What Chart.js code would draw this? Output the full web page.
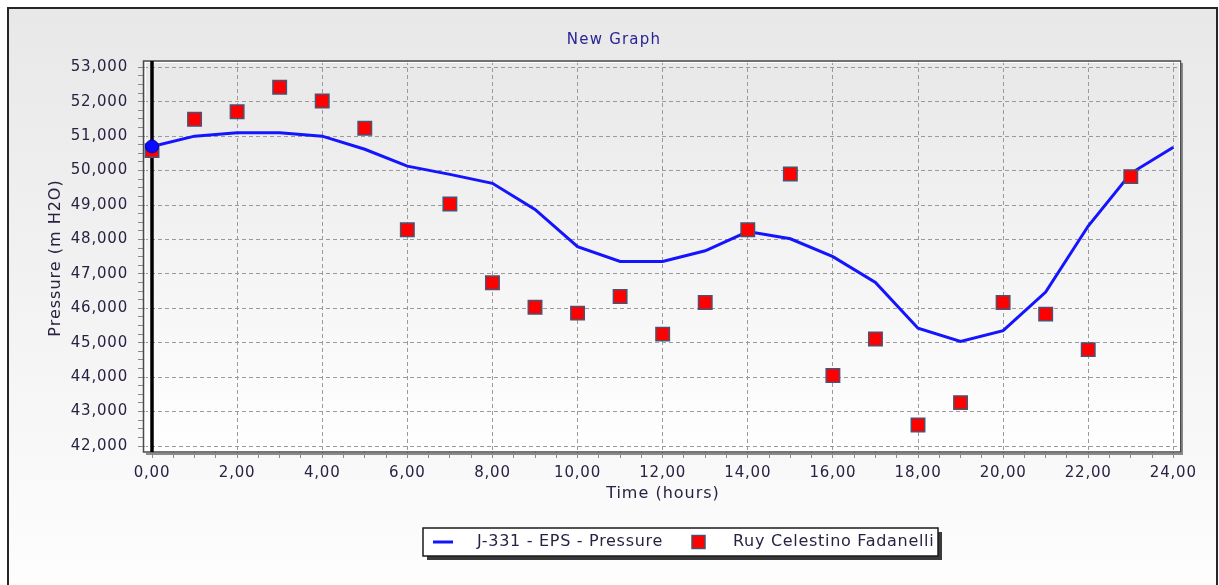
<!DOCTYPE html>
<html>
<head>
<meta charset="utf-8">
<script src="https://cdn.jsdelivr.net/npm/chart.js@4.4.1/dist/chart.umd.min.js"></script>
<style>
  html, body { margin: 0; padding: 0; background: #ffffff; }
  canvas { display: block; }
</style>
</head>
<body>
<canvas id="graph" width="1219" height="585"></canvas>
<script>
// Hourly time axis (hours)
const modelHours = [0, 1, 2, 3, 4, 5, 6, 7, 8, 9, 10, 11, 12, 13, 14, 15, 16, 17, 18, 19, 20, 21, 22, 23, 24];
// J-331 - EPS - Pressure (model result)
const modelPressure = [50700, 51000, 51100, 51100, 51000, 50620, 50130, 49890, 49630, 48870, 47790, 47360, 47360,
                       47670, 48230, 48020, 47500, 46750, 45420, 45035, 45350, 46470, 48390, 49920, 50680];
// Field readings
const fieldHours = [0, 1, 2, 3, 4, 5, 6, 7, 8, 9, 10, 11, 12, 13, 14, 15, 16, 17, 18, 19, 20, 21, 22, 23];
const fieldPressure = [50580, 51490, 51710, 52420, 52020, 51230, 48280, 49030, 46740, 46030, 45860, 46340,
                       45250, 46170, 48280, 49900, 44050, 45110, 42610, 43260, 46170, 45830, 44800, 49825];

// Axis ticks
const xMajorTicks = [0, 2, 4, 6, 8, 10, 12, 14, 16, 18, 20, 22, 24];
const yMajorTicks = [42000, 43000, 44000, 45000, 46000, 47000, 48000, 49000, 50000, 51000, 52000, 53000];
const xMinorPerMajor = 4;   // tick every 0.5 h
const yMinorPerMajor = 4;   // tick every 250

// Texts
const graphTitle = 'New Graph';
const xAxisTitle = 'Time (hours)';
const yAxisTitle = 'Pressure (m H2O)';
const modelLabel = 'J-331 - EPS - Pressure';
const fieldLabel = 'Ruy Celestino Fadanelli';

function subdivide(majors, parts) {
  const out = [];
  for (let i = 0; i < majors.length; i++) {
    out.push(majors[i]);
    if (i < majors.length - 1) {
      const step = (majors[i + 1] - majors[i]) / parts;
      for (let k = 1; k < parts; k++) out.push(majors[i] + k * step);
    }
  }
  return out;
}
const xTicks = subdivide(xMajorTicks, xMinorPerMajor);
const yTicks = subdivide(yMajorTicks, yMinorPerMajor);

const FONT = 'DejaVu Sans';
const TEXT = '#2b2142';
const PLOT = { left: 144, right: 1181, top: 61, bottom: 452 };

const decorations = {
  id: 'decorations',
  beforeDraw(chart) {
    const ctx = chart.ctx;
    const a = chart.chartArea;
    ctx.save();
    ctx.fillStyle = '#ffffff';
    ctx.fillRect(0, 0, chart.width, chart.height);
    // panel
    let g = ctx.createLinearGradient(0, 9, 0, 585);
    g.addColorStop(0, '#e8e8e8');
    g.addColorStop(1, '#fdfdfd');
    ctx.fillStyle = g;
    ctx.fillRect(9, 9, 1207, 600);
    ctx.strokeStyle = '#262626';
    ctx.lineWidth = 2;
    ctx.strokeRect(8, 8, 1209, 620);
    // plot area
    g = ctx.createLinearGradient(0, a.top, 0, a.bottom);
    g.addColorStop(0, '#e8e8e8');
    g.addColorStop(1, '#ffffff');
    ctx.fillStyle = g;
    ctx.fillRect(a.left, a.top, a.right - a.left, a.bottom - a.top);
    ctx.restore();
    // slightly open spacing for the axis tick labels
    if ('letterSpacing' in ctx) ctx.letterSpacing = '0.8px';
  },
  beforeDatasetsDraw(chart) {
    const ctx = chart.ctx;
    const a = chart.chartArea;
    ctx.save();
    // frame with shadow
    ctx.strokeStyle = '#8a8a8a';
    ctx.lineWidth = 2;
    ctx.beginPath();
    ctx.moveTo(a.left + 2, a.bottom + 2);
    ctx.lineTo(a.right + 1, a.bottom + 2);
    ctx.lineTo(a.right + 1, a.top + 2);
    ctx.stroke();
    ctx.strokeStyle = '#4a4a4a';
    ctx.lineWidth = 1.5;
    ctx.strokeRect(a.left - 0.5, a.top, a.right - a.left, a.bottom - a.top);
    ctx.strokeStyle = '#ffffff';
    ctx.lineWidth = 1;
    ctx.strokeRect(a.left + 1.5, a.top + 1.5, a.right - a.left - 3, a.bottom - a.top - 3);
    // zero-time line
    const x0 = chart.scales.x.getPixelForValue(xMajorTicks[0]);
    ctx.strokeStyle = '#000000';
    ctx.lineWidth = 3.5;
    ctx.beginPath();
    ctx.moveTo(x0, a.top);
    ctx.lineTo(x0, a.bottom);
    ctx.stroke();
    ctx.restore();
  },
  afterDraw(chart) {
    const ctx = chart.ctx;
    const spacing = v => { if ('letterSpacing' in ctx) ctx.letterSpacing = v; };
    ctx.save();
    // title
    ctx.fillStyle = '#2a2496';
    ctx.font = '15px "' + FONT + '"';
    ctx.textAlign = 'center';
    ctx.textBaseline = 'middle';
    spacing('1.2px');
    ctx.fillText(graphTitle, 614, 40);
    // axis titles
    ctx.fillStyle = TEXT;
    ctx.font = '16px "' + FONT + '"';
    spacing('1px');
    ctx.fillText(xAxisTitle, 663, 494);
    ctx.save();
    ctx.translate(56, 258);
    ctx.rotate(-Math.PI / 2);
    ctx.fillText(yAxisTitle, 0, 0);
    ctx.restore();
    // legend box
    const L = { x: 423, y: 528, w: 515, h: 28 };
    ctx.fillStyle = '#3a3a3a';
    ctx.fillRect(L.x + 4, L.y + 4, L.w, L.h);
    ctx.fillStyle = '#ffffff';
    ctx.fillRect(L.x, L.y, L.w, L.h);
    ctx.strokeStyle = '#1a1a1a';
    ctx.lineWidth = 1.5;
    ctx.strokeRect(L.x, L.y, L.w, L.h);
    const cy = L.y + L.h / 2;
    const lineDs = chart.data.datasets[2];
    const ptDs = chart.data.datasets[1];
    ctx.strokeStyle = lineDs.borderColor;
    ctx.lineWidth = 3;
    ctx.beginPath();
    ctx.moveTo(433, cy);
    ctx.lineTo(453, cy);
    ctx.stroke();
    ctx.fillStyle = ptDs.backgroundColor;
    ctx.fillRect(692, cy - 6.5, 13, 13);
    ctx.strokeStyle = ptDs.borderColor;
    ctx.lineWidth = 1.5;
    ctx.strokeRect(692, cy - 6.5, 13, 13);
    ctx.fillStyle = TEXT;
    ctx.font = '16px "' + FONT + '"';
    ctx.textAlign = 'left';
    spacing('0.7px');
    ctx.fillText(lineDs.label, 477, cy);
    ctx.fillText(ptDs.label, 733, cy);
    ctx.restore();
    spacing('0px');
  }
};

const isMajor = (list, v) => list.some(m => Math.abs(m - v) < 1e-9);

new Chart(document.getElementById('graph'), {
  type: 'scatter',
  data: {
    datasets: [
      {
        label: 'start',
        data: [{ x: modelHours[0], y: modelPressure[0] }],
        pointStyle: 'circle',
        pointRadius: 6.5,
        backgroundColor: '#0a0aff',
        borderColor: '#0000b4',
        borderWidth: 1,
        order: 0
      },
      {
        label: fieldLabel,
        data: fieldHours.map((h, i) => ({ x: h, y: fieldPressure[i] })),
        pointStyle: 'rect',
        pointRadius: 9.5,
        backgroundColor: '#ff0000',
        borderColor: '#4b5272',
        borderWidth: 1.5,
        order: 1
      },
      {
        label: modelLabel,
        data: modelHours.map((h, i) => ({ x: h, y: modelPressure[i] })),
        showLine: true,
        borderColor: '#1414ff',
        backgroundColor: '#1414ff',
        borderWidth: 3,
        pointRadius: 0,
        tension: 0,
        order: 2
      }
    ]
  },
  options: {
    responsive: false,
    animation: false,
    devicePixelRatio: 1,
    layout: { padding: { top: PLOT.top, right: 1219 - PLOT.right, left: 0, bottom: 0 } },
    plugins: { legend: { display: false }, tooltip: { enabled: false }, title: { display: false } },
    scales: {
      x: {
        type: 'linear',
        min: -0.188,
        max: 24.18,
        afterFit: s => { s.height = 585 - PLOT.bottom; },
        afterBuildTicks: s => { s.ticks = xTicks.map(v => ({ value: v })); },
        grid: {
          color: c => (c.tick && isMajor(xMajorTicks, c.tick.value)) ? '#9a9a9a' : 'rgba(0,0,0,0)',
          lineWidth: 1,
          tickColor: '#8a8a8a',
          tickLength: 6,
          drawTicks: true
        },
        border: { display: false, dash: [4, 3] },
        ticks: {
          autoSkip: false,
          maxRotation: 0,
          padding: 6,
          color: TEXT,
          font: { family: FONT, size: 15 },
          callback: v => isMajor(xMajorTicks, v) ? v.toFixed(2).replace('.', ',') : ''
        }
      },
      y: {
        type: 'linear',
        min: 41826,
        max: 53183,
        afterFit: s => { s.width = PLOT.left; },
        afterBuildTicks: s => { s.ticks = yTicks.map(v => ({ value: v })); },
        grid: {
          color: c => (c.tick && isMajor(yMajorTicks, c.tick.value)) ? '#9a9a9a' : 'rgba(0,0,0,0)',
          lineWidth: 1,
          tickColor: '#8a8a8a',
          tickLength: 6,
          drawTicks: true
        },
        border: { display: false, dash: [4, 3] },
        ticks: {
          autoSkip: false,
          padding: 10,
          color: TEXT,
          font: { family: FONT, size: 15 },
          callback: v => isMajor(yMajorTicks, v) ? v.toLocaleString('en-US') : ''
        }
      }
    }
  },
  plugins: [decorations]
});
</script>
</body>
</html>
